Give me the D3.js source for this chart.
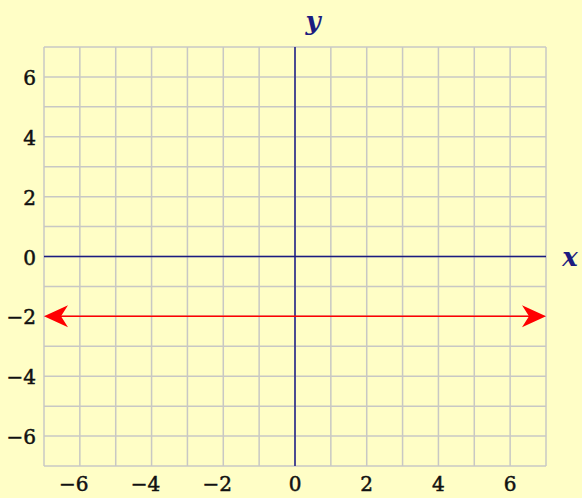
<!DOCTYPE html>
<html>
<head>
<meta charset="utf-8">
<script src="https://cdn.jsdelivr.net/npm/d3@7"></script>
<style>
  body { margin: 0; background: #fffec6; }
  svg { display: block; }
</style>
</head>
<body>
<svg id="chart" width="582" height="498"></svg>
<script>
// domain of the grid
const xDomain = [-7, 7];
const yDomain = [-7, 7];
const gridValues = d3.range(-7, 8, 1);
const xTickValues = [-6, -4, -2, 0, 2, 4, 6];
const yTickValues = [-6, -4, -2, 0, 2, 4, 6];
// horizontal line y = -2
const lineY = -2;

const svg = d3.select('#chart');
const width = 582, height = 498;
const serif = 'DejaVu Serif';

const xScale = d3.scaleLinear().domain(xDomain).range([44, 546]);
const yScale = d3.scaleLinear().domain(yDomain).range([466, 47]);

svg.append('rect')
    .attr('width', width)
    .attr('height', height)
    .attr('fill', '#fffec6');

// grid
const grid = svg.append('g').attr('stroke', '#c8c8c4').attr('stroke-width', 1.5);
grid.selectAll('line.v')
    .data(gridValues)
    .join('line')
    .attr('class', 'v')
    .attr('x1', d => xScale(d)).attr('x2', d => xScale(d))
    .attr('y1', yScale(7)).attr('y2', yScale(-7));
grid.selectAll('line.h')
    .data(gridValues)
    .join('line')
    .attr('class', 'h')
    .attr('y1', d => yScale(d)).attr('y2', d => yScale(d))
    .attr('x1', xScale(-7)).attr('x2', xScale(7));

// axes
const axisColor = '#1c1c80';
svg.append('line')
    .attr('x1', xScale(-7)).attr('x2', xScale(7))
    .attr('y1', yScale(0)).attr('y2', yScale(0))
    .attr('stroke', axisColor).attr('stroke-width', 1.5);
svg.append('line')
    .attr('x1', xScale(0)).attr('x2', xScale(0))
    .attr('y1', yScale(7)).attr('y2', yScale(-7))
    .attr('stroke', axisColor).attr('stroke-width', 1.5);

// tick labels
const fmt = d => d < 0 ? '\u2212' + Math.abs(d) : String(d);
svg.append('g')
    .selectAll('text')
    .data(yTickValues)
    .join('text')
    .attr('x', 36)
    .attr('y', d => yScale(d) + 8)
    .attr('text-anchor', 'end')
    .style('font-family', serif)
    .style('font-size', '20px')
    .attr('fill', '#111')
    .attr('stroke', '#111').attr('stroke-width', 0.5)
    .text(fmt);
svg.append('g')
    .selectAll('text')
    .data(xTickValues)
    .join('text')
    .attr('x', d => xScale(d) - (d < 0 ? 6 : 0))
    .attr('y', 491)
    .attr('text-anchor', 'middle')
    .style('font-family', serif)
    .style('font-size', '20px')
    .attr('fill', '#111')
    .attr('stroke', '#111').attr('stroke-width', 0.5)
    .text(fmt);

// axis names
svg.append('text')
    .attr('x', 313).attr('y', 30)
    .attr('text-anchor', 'middle')
    .style('font-family', serif)
    .style('font-style', 'italic').style('font-weight', 'bold')
    .style('font-size', '26px')
    .attr('fill', axisColor)
    .text('y');
svg.append('text')
    .attr('x', 570).attr('y', 266)
    .attr('text-anchor', 'middle')
    .style('font-family', serif)
    .style('font-style', 'italic').style('font-weight', 'bold')
    .style('font-size', '26px')
    .attr('fill', axisColor)
    .text('x');

// red line with arrowheads
const red = '#ff0000';
const y0 = yScale(lineY);
const x1 = xScale(-7), x2 = xScale(7);
svg.append('line')
    .attr('x1', x1 + 10).attr('x2', x2 - 10)
    .attr('y1', y0).attr('y2', y0)
    .attr('stroke', red).attr('stroke-width', 1.5);

const arrow = (tip, dir) => {
    const p = [
        [tip, y0],
        [tip + dir * 24, y0 - 11],
        [tip + dir * 17, y0],
        [tip + dir * 24, y0 + 11]
    ];
    svg.append('path')
        .attr('d', d3.line()(p) + 'Z')
        .attr('fill', red);
};
arrow(x1, 1);
arrow(x2, -1);
</script>
</body>
</html>
